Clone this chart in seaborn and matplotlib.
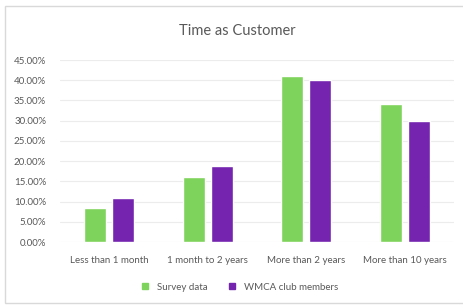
import pandas as pd
import numpy as np
import matplotlib.pyplot as plt
import seaborn as sns
from matplotlib.patches import Rectangle
from matplotlib.ticker import FuncFormatter

# dados
categorias = ['Less than 1 month', '1 month to 2 years', 'More than 2 years', 'More than 10 years']
series = ['Survey data', 'WMCA club members']
survey = [8.4, 16.1, 41.1, 34.2]
membros = [10.9, 18.8, 40.1, 30.0]
cores = ['#7ed35c', '#7424ae']

df = pd.DataFrame({
    'Categoria': categorias * 2,
    'Serie': [series[0]] * 4 + [series[1]] * 4,
    'Valor': survey + membros,
})

sns.set_theme(style="white")
plt.rcParams['font.family'] = ['Lato', 'DejaVu Sans']

fig = plt.figure(figsize=(4.64, 3.05), dpi=100)
ax = fig.add_axes([60 / 464, 1 - 242 / 305, 394 / 464, 182 / 305])

sns.barplot(data=df, x='Categoria', y='Valor', hue='Serie', order=categorias,
            hue_order=series, palette=cores, width=0.566, gap=0.215,
            saturation=1, ax=ax, legend=False)

ax.set_ylim(0, 45)
ax.set_xlim(-0.5, 3.5)
ax.set_yticks(np.arange(0, 46, 5))
ax.yaxis.set_major_formatter(FuncFormatter(lambda v, p: f'{v:.2f}%'))
ax.grid(axis='y', color='#ececec', linewidth=0.8)
ax.set_axisbelow(True)
for s in ax.spines.values():
    s.set_visible(False)
ax.set_xlabel('')
ax.set_ylabel('')
ax.tick_params(axis='both', length=0, labelsize=7, colors='#595959')
ax.tick_params(axis='y', pad=10)
ax.tick_params(axis='x', pad=10)

fig.text(0.512, 1 - 31 / 305, 'Time as Customer', ha='center', va='center',
         fontsize=10.5, color='#595959')

# legenda manual embaixo
handles = [plt.Line2D([], [], marker='s', linestyle='', markersize=4,
                      color=c) for c in cores]
fig.legend(handles, series, loc='center', bbox_to_anchor=(0.51, 1 - 287 / 305),
           ncol=2, frameon=False, fontsize=7, labelcolor='#595959',
           handletextpad=0.2, columnspacing=1.5)

fig.patches.append(Rectangle((5 / 464, 2 / 305), 1.0, 1 - 8 / 305,
                             transform=fig.transFigure, fill=False,
                             edgecolor='#d9d9d9', linewidth=1))

fig.savefig('out.png', dpi=100)
